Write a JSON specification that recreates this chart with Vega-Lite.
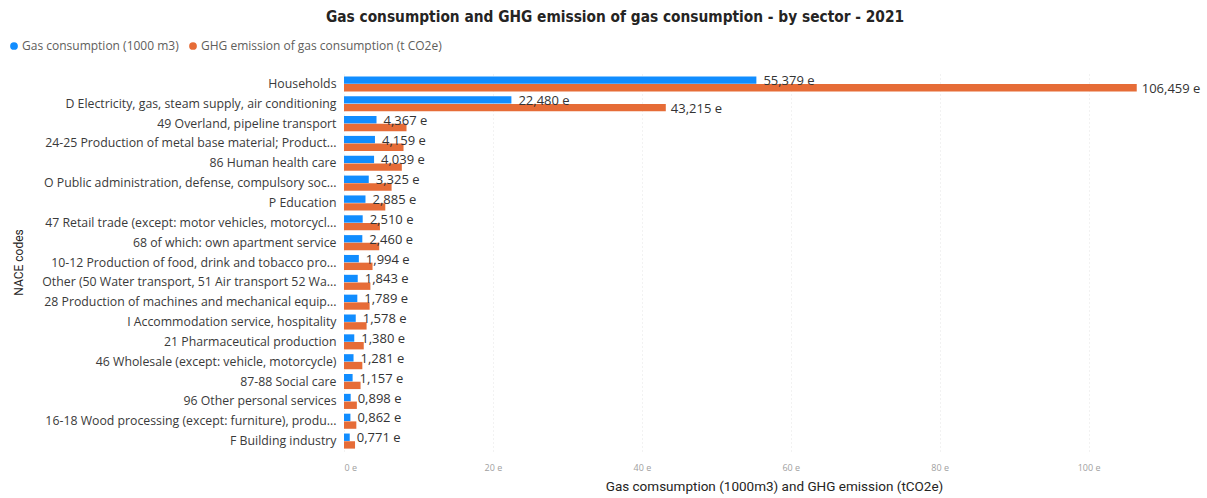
{
  "$schema": "https://vega.github.io/schema/vega-lite/v6.json",
  "autosize": "none",
  "width": 834,
  "height": 377,
  "padding": {"left": 344, "top": 74, "right": 29, "bottom": 47},
  "background": "white",
  "config": {
    "view": {"stroke": null},
    "locale": {"number": {"decimal": ",", "thousands": ".", "grouping": [3], "currency": ["", " e"]}}
  },
  "title": {
    "text": "Gas consumption and GHG emission of gas consumption - by sector - 2021",
    "font": "DejaVu Sans Condensed",
    "fontSize": 15.3,
    "fontWeight": "bold",
    "color": "#252423",
    "anchor": "middle",
    "frame": "group",
    "dx": -146,
    "offset": 15
  },
  "data": {
    "values": [
      {"sector": "Households", "series": "Gas consumption (1000 m3)", "value": 55.379},
      {"sector": "Households", "series": "GHG emission of gas consumption (t CO2e)", "value": 106.459},
      {"sector": "D Electricity, gas, steam supply, air conditioning", "series": "Gas consumption (1000 m3)", "value": 22.480},
      {"sector": "D Electricity, gas, steam supply, air conditioning", "series": "GHG emission of gas consumption (t CO2e)", "value": 43.215},
      {"sector": "49 Overland, pipeline transport", "series": "Gas consumption (1000 m3)", "value": 4.367},
      {"sector": "49 Overland, pipeline transport", "series": "GHG emission of gas consumption (t CO2e)", "value": 8.395},
      {"sector": "24-25 Production of metal base material; Product...", "series": "Gas consumption (1000 m3)", "value": 4.159},
      {"sector": "24-25 Production of metal base material; Product...", "series": "GHG emission of gas consumption (t CO2e)", "value": 7.995},
      {"sector": "86 Human health care", "series": "Gas consumption (1000 m3)", "value": 4.039},
      {"sector": "86 Human health care", "series": "GHG emission of gas consumption (t CO2e)", "value": 7.765},
      {"sector": "O Public administration, defense, compulsory soc...", "series": "Gas consumption (1000 m3)", "value": 3.325},
      {"sector": "O Public administration, defense, compulsory soc...", "series": "GHG emission of gas consumption (t CO2e)", "value": 6.392},
      {"sector": "P Education", "series": "Gas consumption (1000 m3)", "value": 2.885},
      {"sector": "P Education", "series": "GHG emission of gas consumption (t CO2e)", "value": 5.546},
      {"sector": "47 Retail trade (except: motor vehicles, motorcycl...", "series": "Gas consumption (1000 m3)", "value": 2.510},
      {"sector": "47 Retail trade (except: motor vehicles, motorcycl...", "series": "GHG emission of gas consumption (t CO2e)", "value": 4.825},
      {"sector": "68 of which: own apartment service", "series": "Gas consumption (1000 m3)", "value": 2.460},
      {"sector": "68 of which: own apartment service", "series": "GHG emission of gas consumption (t CO2e)", "value": 4.729},
      {"sector": "10-12 Production of food, drink and tobacco pro...", "series": "Gas consumption (1000 m3)", "value": 1.994},
      {"sector": "10-12 Production of food, drink and tobacco pro...", "series": "GHG emission of gas consumption (t CO2e)", "value": 3.833},
      {"sector": "Other (50 Water transport, 51 Air transport 52 Wa...", "series": "Gas consumption (1000 m3)", "value": 1.843},
      {"sector": "Other (50 Water transport, 51 Air transport 52 Wa...", "series": "GHG emission of gas consumption (t CO2e)", "value": 3.543},
      {"sector": "28 Production of machines and mechanical equip...", "series": "Gas consumption (1000 m3)", "value": 1.789},
      {"sector": "28 Production of machines and mechanical equip...", "series": "GHG emission of gas consumption (t CO2e)", "value": 3.439},
      {"sector": "I Accommodation service, hospitality", "series": "Gas consumption (1000 m3)", "value": 1.578},
      {"sector": "I Accommodation service, hospitality", "series": "GHG emission of gas consumption (t CO2e)", "value": 3.034},
      {"sector": "21 Pharmaceutical production", "series": "Gas consumption (1000 m3)", "value": 1.380},
      {"sector": "21 Pharmaceutical production", "series": "GHG emission of gas consumption (t CO2e)", "value": 2.653},
      {"sector": "46 Wholesale (except: vehicle, motorcycle)", "series": "Gas consumption (1000 m3)", "value": 1.281},
      {"sector": "46 Wholesale (except: vehicle, motorcycle)", "series": "GHG emission of gas consumption (t CO2e)", "value": 2.463},
      {"sector": "87-88 Social care", "series": "Gas consumption (1000 m3)", "value": 1.157},
      {"sector": "87-88 Social care", "series": "GHG emission of gas consumption (t CO2e)", "value": 2.224},
      {"sector": "96 Other personal services", "series": "Gas consumption (1000 m3)", "value": 0.898},
      {"sector": "96 Other personal services", "series": "GHG emission of gas consumption (t CO2e)", "value": 1.726},
      {"sector": "16-18 Wood processing (except: furniture), produ...", "series": "Gas consumption (1000 m3)", "value": 0.862},
      {"sector": "16-18 Wood processing (except: furniture), produ...", "series": "GHG emission of gas consumption (t CO2e)", "value": 1.657},
      {"sector": "F Building industry", "series": "Gas consumption (1000 m3)", "value": 0.771},
      {"sector": "F Building industry", "series": "GHG emission of gas consumption (t CO2e)", "value": 1.482}
    ]
  },
  "encoding": {
    "y": {
      "field": "sector",
      "type": "nominal",
      "sort": null,
      "scale": {"paddingInner": 0.24, "paddingOuter": 0.12},
      "axis": {
        "title": "NACE codes",
        "titleFont": "Roboto",
        "titleFontSize": 12,
        "titleFontWeight": "normal",
        "titleColor": "#252423",
        "titleX": -326,
        "titleY": 188,
        "titleAngle": -90,
        "titleAlign": "center",
        "titleBaseline": "middle",
        "labelFont": "Open Sans",
        "labelFontSize": 12.3,
        "labelColor": "#3a3a3a",
        "labelLimit": 330,
        "labelPadding": 8,
        "ticks": false,
        "domain": false
      }
    },
    "yOffset": {
      "field": "series",
      "type": "nominal",
      "sort": ["Gas consumption (1000 m3)", "GHG emission of gas consumption (t CO2e)"],
      "scale": {"paddingInner": 0.04}
    },
    "x": {
      "field": "value",
      "type": "quantitative",
      "scale": {"domain": [0, 112], "nice": false},
      "axis": {
        "title": "Gas comsumption (1000m3) and GHG emission (tCO2e)",
        "titleFont": "Roboto",
        "titleFontSize": 13.5,
        "titleFontWeight": "normal",
        "titleColor": "#252423",
        "titlePadding": 7,
        "titleX": 430,
        "titleAlign": "center",
        "values": [0, 20, 40, 60, 80, 100],
        "format": "$.0f",
        "labelFont": "Open Sans",
        "labelFontSize": 9,
        "labelColor": "#a0a0a0",
        "labelPadding": 12,
        "ticks": false,
        "domain": false,
        "grid": true,
        "gridColor": "#e4e4e4",
        "gridDash": [1, 3]
      }
    }
  },
  "layer": [
    {
      "mark": {"type": "bar"},
      "encoding": {
        "color": {
          "field": "series",
          "type": "nominal",
          "sort": ["Gas consumption (1000 m3)", "GHG emission of gas consumption (t CO2e)"],
          "scale": {"range": ["#118DFF", "#E66C37"]},
          "legend": {
            "title": null,
            "orient": "none",
            "legendX": -336,
            "legendY": -34,
            "direction": "horizontal",
            "symbolType": "circle",
            "symbolSize": 60,
            "labelFont": "Open Sans",
            "labelFontSize": 12,
            "labelColor": "#605E5C",
            "labelLimit": 400,
            "labelOffset": 2,
            "columnPadding": 8
          }
        }
      }
    },
    {
      "transform": [{"filter": "datum.series === 'Gas consumption (1000 m3)'"}],
      "mark": {"type": "text", "align": "left", "baseline": "middle", "dx": 7, "dy": 1, "font": "Open Sans", "fontSize": 13, "color": "#333333"},
      "encoding": {"text": {"field": "value", "type": "quantitative", "format": "$.3f"}}
    },
    {
      "transform": [{"filter": "datum.series === 'GHG emission of gas consumption (t CO2e)' && datum.value > 20"}],
      "mark": {"type": "text", "align": "left", "baseline": "middle", "dx": 5, "dy": 1, "font": "Open Sans", "fontSize": 13, "color": "#333333"},
      "encoding": {"text": {"field": "value", "type": "quantitative", "format": "$.3f"}}
    }
  ]
}
